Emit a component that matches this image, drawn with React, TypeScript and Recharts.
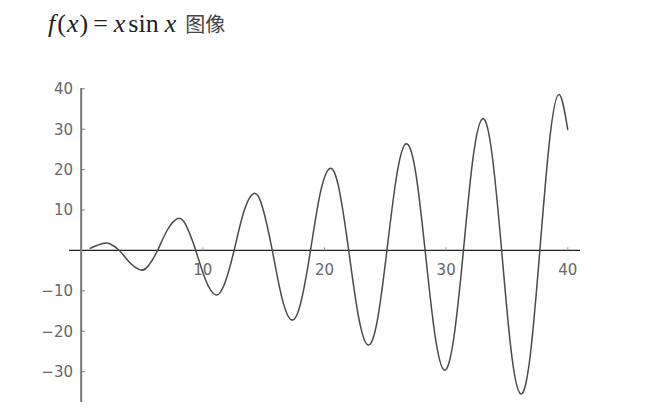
import { LineChart, Line, XAxis, YAxis, ReferenceLine, ReferenceDot } from "recharts";

// points (zeros, peaks and points between)
const xValues = [
  0.7, 1.57, 2.05, 2.36, 3.14, 3.93, 4.85, 5.5, 6.28, 7.07, 7.95, 8.64, 9.42, 10.21, 11.05, 11.78,
  12.57, 13.35, 14.2, 14.92, 15.71, 16.49, 17.3, 18.06, 18.85, 19.63, 20.45, 21.21, 21.99, 22.78,
  23.58, 24.35, 25.13, 25.92, 26.7, 27.49, 28.27, 29.06, 29.85, 30.63, 31.42, 32.2, 33.0, 33.77,
  34.56, 35.34, 36.13, 36.91, 37.7, 38.49, 39.27, 40,
];
const yValues = [
  0.45, 1.55, 1.85, 1.65, 0, -2.8, -4.8, -3.9, 0, 5.0, 7.9, 6.1, 0, -7.2, -11.0, -8.3,
  0, 9.4, 14.1, 10.5, 0, -11.6, -17.2, -12.8, 0, 13.9, 20.3, 15.0, 0, -16.1,
  -23.4, -17.2, 0, 18.3, 26.4, 19.4, 0, -20.5, -29.6, -21.6, 0, 22.7, 32.6, 23.8,
  0, -24.8, -35.5, -26.0, 0, 27.0, 38.6, 29.8,
];

const xTicks = [10, 20, 30, 40];
const yTicks = [-30, -20, -10, 10, 20, 30, 40];

const data = xValues.map((x, i) => ({ x, y: yValues[i] }));

const labelStyle = { fill: "#666", fontSize: 15, fontFamily: "DejaVu Sans, sans-serif" };

const sp = (w: number) => <span style={{ display: "inline-block", width: w }} />;

export default function App() {
  return (
    <div style={{ position: "absolute", left: 0, top: 0, width: 654, height: 417, background: "#fff" }}>
      <div
        style={{
          position: "absolute",
          left: 48,
          top: 9,
          fontFamily: "Liberation Serif, Times New Roman, serif",
          fontSize: 26,
          color: "#222",
          whiteSpace: "nowrap",
        }}
      >
        <i>f</i>
        {sp(2)}({sp(1)}
        <i>x</i>
        {sp(1)}){sp(5)}={sp(6)}
        <i>x</i>
        {sp(3)}sin{sp(6)}
        <i>x</i>
        {sp(9)}
        <span style={{ fontFamily: "Noto Sans CJK SC", fontSize: 20, color: "#444" }}>图像</span>
      </div>
      <LineChart width={654} height={417} data={data} margin={{ top: 88, right: 74, bottom: 15, left: 0 }}>
        <XAxis type="number" dataKey="x" domain={[-1, 41]} hide />
        <YAxis
          type="number"
          domain={[-37.5, 40.2]}
          ticks={yTicks}
          width={69}
          axisLine={false}
          tickLine={false}
          tickSize={0}
          tickMargin={-4}
          tick={labelStyle}
          tickFormatter={(v: number) => (v < 0 ? "\u2212" + Math.abs(v) : String(v))}
        />
        <ReferenceLine y={0} stroke="#222" strokeWidth={1.2} />
        <ReferenceLine x={0} stroke="#777" strokeWidth={2} />
        {yTicks.map((t) => (
          <ReferenceLine
            key={"yt" + t}
            segment={[
              { x: 0, y: t },
              { x: 0.3, y: t },
            ]}
            stroke="#777"
          />
        ))}
        {xTicks.map((t) => (
          <ReferenceLine
            key={"xt" + t}
            segment={[
              { x: t, y: 0 },
              { x: t, y: 0.8 },
            ]}
            stroke="#999"
          />
        ))}
        {xTicks.map((t) => (
          <ReferenceDot
            key={"xl" + t}
            x={t}
            y={0}
            r={0}
            stroke="none"
            label={{ value: String(t), position: "bottom", offset: 14, ...labelStyle }}
          />
        ))}
        <Line
          type="natural"
          dataKey="y"
          stroke="#4a4a4a"
          strokeWidth={1.5}
          dot={false}
          isAnimationActive={false}
        />
      </LineChart>
    </div>
  );
}
